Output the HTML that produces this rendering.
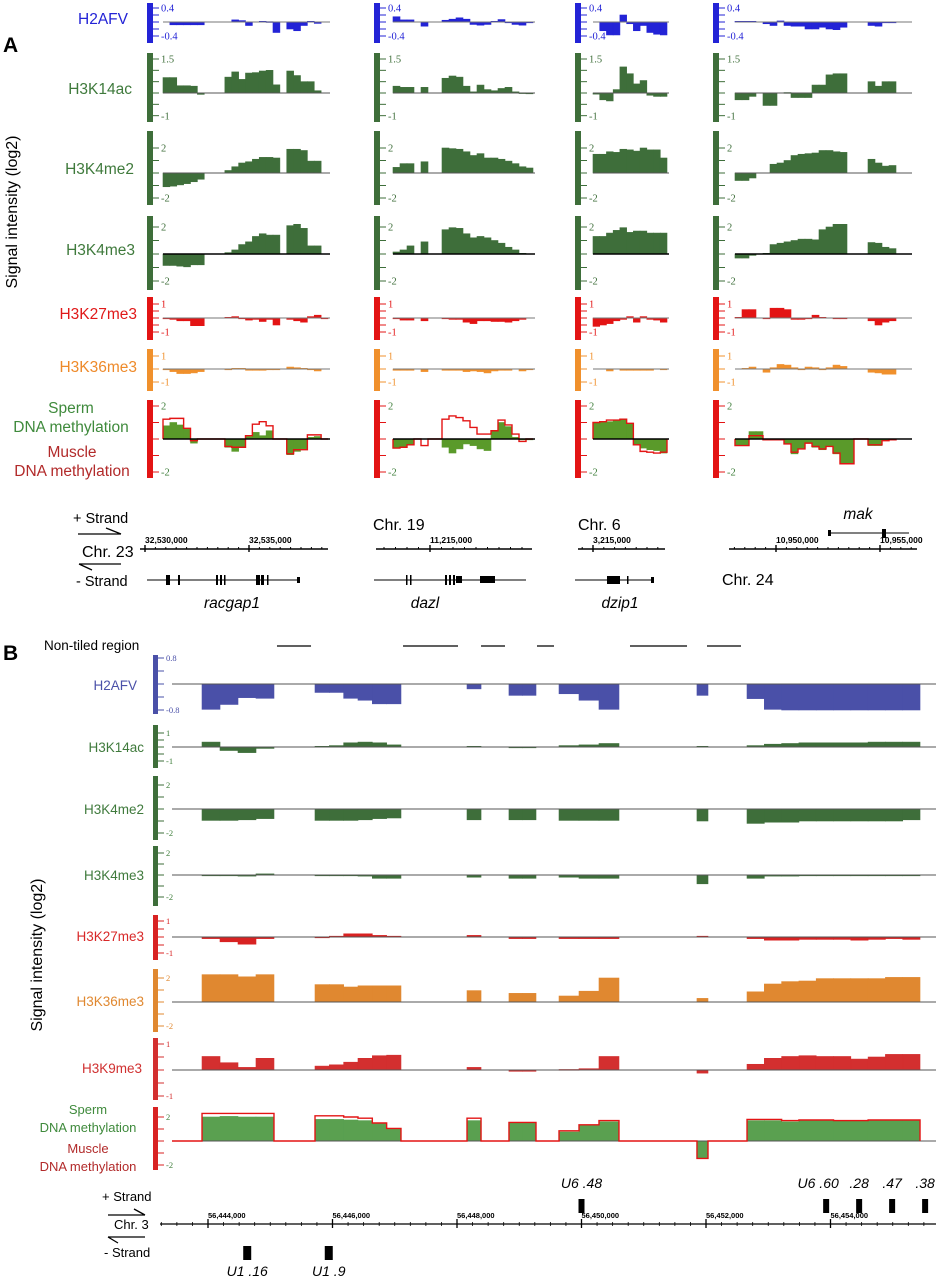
<!DOCTYPE html>
<html><head><meta charset="utf-8">
<style>
html,body{margin:0;padding:0;background:#fff;}
svg{display:block;font-family:"Liberation Sans",sans-serif;}
.tk{font-family:"Liberation Serif",serif;}
</style></head>
<body>
<svg id="fig" width="940" height="1280" viewBox="0 0 940 1280" xmlns="http://www.w3.org/2000/svg">
<text x="3" y="52" font-size="21" font-weight="bold">A</text>
<text x="3" y="660" font-size="21" font-weight="bold">B</text>
<text transform="translate(17,212) rotate(-90)" text-anchor="middle" font-size="16">Signal intensity (log2)</text>
<text transform="translate(42,955) rotate(-90)" text-anchor="middle" font-size="16">Signal intensity (log2)</text>
<text x="44" y="650" font-size="13.5">Non-tiled region</text>

<g font-size="15.5" text-anchor="end">
<text x="128" y="24" fill="#2323d6">H2AFV</text>
<text x="132" y="94" fill="#3f7a3c">H3K14ac</text>
<text x="134" y="174" fill="#3f7a3c">H3K4me2</text>
<text x="135" y="255" fill="#3f7a3c">H3K4me3</text>
<text x="137" y="319" fill="#e01818">H3K27me3</text>
<text x="137" y="372" fill="#ee8a2a">H3K36me3</text>
</g>
<g font-size="15.5" text-anchor="middle">
<text x="71" y="413" fill="#3f8a3c">Sperm</text>
<text x="71" y="432" fill="#3f8a3c">DNA methylation</text>
<text x="72" y="457" fill="#b22a2a">Muscle</text>
<text x="72" y="476" fill="#b22a2a">DNA methylation</text>
</g>

<g font-size="13.5" text-anchor="end">
<text x="137" y="690" fill="#4a50a8">H2AFV</text>
<text x="144" y="752" fill="#3f7a3c">H3K14ac</text>
<text x="144" y="814" fill="#3f7a3c">H3K4me2</text>
<text x="144" y="880" fill="#3f7a3c">H3K4me3</text>
<text x="144" y="941" fill="#d82828">H3K27me3</text>
<text x="144" y="1006" fill="#e08830">H3K36me3</text>
<text x="142" y="1073" fill="#d03030">H3K9me3</text>
</g>
<g font-size="13" text-anchor="middle">
<text x="88" y="1114" fill="#3f8a3c">Sperm</text>
<text x="88" y="1132" fill="#3f8a3c">DNA methylation</text>
<text x="88" y="1153" fill="#b22a2a">Muscle</text>
<text x="88" y="1171" fill="#b22a2a">DNA methylation</text>
</g>

<g>
<text x="73" y="523" font-size="14.5">+ Strand</text>
<path d="M78 534 H121 M106 528 L121 534" stroke="#000" stroke-width="1.3" fill="none"/>
<text x="82" y="557" font-size="16">Chr. 23</text>
<path d="M79 564 H121 M79 564 L92 570" stroke="#000" stroke-width="1.3" fill="none"/>
<text x="76" y="586" font-size="14.5">- Strand</text>
<text x="373" y="530" font-size="16">Chr. 19</text>
<text x="578" y="530" font-size="16">Chr. 6</text>
<text x="722" y="585" font-size="16">Chr. 24</text>
<g font-style="italic" font-size="15.5" text-anchor="middle">
<text x="232" y="608">racgap1</text>
<text x="425" y="608">dazl</text>
<text x="620" y="608">dzip1</text>
<text x="858" y="519">mak</text>
</g>
<g fill="#000" stroke="#000">
<line x1="147" y1="580" x2="300" y2="580" stroke-width="1"/>
<rect x="166" y="575" width="4" height="10" stroke="none"/>
<rect x="178" y="575" width="2" height="10" stroke="none"/>
<rect x="216" y="575" width="2" height="10" stroke="none"/>
<rect x="220" y="575" width="2" height="10" stroke="none"/>
<rect x="224" y="575" width="1.5" height="10" stroke="none"/>
<rect x="256" y="575" width="4" height="10" stroke="none"/>
<rect x="261" y="575" width="3" height="10" stroke="none"/>
<rect x="267" y="575" width="1.5" height="10" stroke="none"/>
<rect x="297" y="577" width="3" height="6" stroke="none"/>
<line x1="374" y1="580" x2="526" y2="580" stroke-width="1"/>
<rect x="406" y="575" width="1.5" height="10" stroke="none"/>
<rect x="410" y="575" width="1.5" height="10" stroke="none"/>
<rect x="445" y="575" width="2" height="10" stroke="none"/>
<rect x="449" y="575" width="2" height="10" stroke="none"/>
<rect x="453" y="575" width="2" height="10" stroke="none"/>
<rect x="456" y="576" width="6" height="7" stroke="none"/>
<rect x="480" y="576" width="15" height="7" stroke="none"/>
<line x1="575" y1="580" x2="654" y2="580" stroke-width="1"/>
<rect x="607" y="576" width="13" height="8" stroke="none"/>
<rect x="627" y="576" width="1.5" height="8" stroke="none"/>
<rect x="651" y="577" width="3" height="6" stroke="none"/>
<line x1="828" y1="533" x2="909" y2="533" stroke-width="1"/>
<rect x="828" y="530" width="3" height="6" stroke="none"/>
<rect x="882" y="529" width="4" height="9" stroke="none"/>
</g>
</g>

<g>
<text x="102" y="1201" font-size="13">+ Strand</text>
<path d="M108 1215 H145 M134 1209 L145 1215" stroke="#000" stroke-width="1.3" fill="none"/>
<text x="114" y="1229" font-size="13">Chr. 3</text>
<path d="M108 1237 H145 M108 1237 L118 1243" stroke="#000" stroke-width="1.3" fill="none"/>
<text x="104" y="1257" font-size="13">- Strand</text>
</g>
<g id="dyn"></g>
</svg>
<script>
// ---------- Panel A data (bin values per column, log2) ----------
const colNames = ["racgap1","dazl","dzip1","mak"];
const c1_h2afv = [0,-0.08,-0.08,-0.08,-0.08,-0.08,null,null,null,0,0.06,0.04,-0.1,0,0.02,0.01,-0.3,null,-0.2,-0.25,-0.1,0.02,-0.04,null];
const c1_h3k14ac = [0.68,0.68,0.32,0.32,0.3,-0.06,null,null,null,0.7,0.93,0.6,0.88,0.9,0.97,1.0,0.36,null,0.97,0.77,0.5,0.5,0.1,null];
const c1_h3k4me2 = [-1.1,-1.05,-0.95,-0.85,-0.7,-0.5,null,null,null,0.2,0.5,0.8,0.9,1.1,1.25,1.25,1.2,null,1.9,1.9,1.8,0.95,0.95,null];
const c1_h3k4me3 = [-0.85,-0.85,-0.9,-0.95,-0.8,-0.8,null,null,null,0.1,0.3,0.7,0.9,1.3,1.5,1.4,1.4,null,2.1,2.2,1.9,0.6,0.6,null];
const c1_h3k27me3 = [-0.05,-0.1,-0.2,-0.2,-0.55,-0.55,null,null,null,0.05,0.1,-0.05,-0.15,-0.1,-0.25,-0.1,-0.5,null,-0.1,-0.2,-0.3,0.1,0.2,-0.05];
const c1_h3k36me3 = [-0.05,-0.2,-0.35,-0.35,-0.3,-0.2,null,null,null,-0.05,0.05,0.05,-0.1,-0.1,-0.1,-0.05,-0.05,null,0.15,0.1,0.05,-0.05,-0.15,null];
const c1_sperm = [0.8,1.0,0.85,0.6,-0.25,0,0,0,0,-0.5,-0.75,-0.5,0.15,0.4,0.2,0.5,0,0,-0.95,-0.75,-0.6,0.1,0.15,0];
const c1_muscle = [1.2,1.25,1.25,0.65,-0.1,0,0,0,0,-0.45,-0.5,-0.5,0.2,0.9,1.05,0.8,0,0,-0.9,-0.65,-0.65,0.25,0.25,0];

const c2_h2afv = [0.15,0.06,0.06,null,-0.12,null,null,0.05,0.08,0.12,0.08,-0.07,-0.09,-0.07,0.02,0.07,-0.02,-0.07,-0.09,-0.02];
const c2_h3k14ac = [0.3,0.25,0.25,null,0.25,null,null,0.65,0.75,0.7,0.3,0.05,0.35,0.15,0.1,0.2,0.25,0.05,0.01,-0.02];
const c2_h3k4me2 = [0.45,0.75,0.75,null,0.9,null,null,2.0,1.95,1.9,1.7,1.4,1.55,1.2,1.2,1.1,0.95,0.75,0.5,0.4];
const c2_h3k4me3 = [0.15,0.3,0.6,null,0.9,null,null,1.8,1.95,1.9,1.5,1.2,1.3,1.2,1.0,0.8,0.5,0.3,0.05,0];
const c2_h3k27me3 = [-0.05,-0.15,-0.15,null,-0.2,null,null,-0.05,-0.1,-0.1,-0.3,-0.4,-0.2,-0.2,-0.25,-0.25,-0.3,-0.2,-0.1,0];
const c2_h3k36me3 = [-0.1,-0.1,-0.1,null,-0.2,null,null,-0.1,-0.1,-0.1,-0.2,-0.15,-0.2,-0.3,-0.15,-0.1,-0.1,0,-0.15,-0.05];
const c2_sperm = [-0.55,-0.5,-0.35,0,0,0,0,-0.5,-0.85,-0.6,-0.3,-0.4,-0.6,-0.7,0.5,1.0,0.75,0.1,-0.05,-0.05];
const c2_muscle = [-0.55,-0.5,-0.35,0,-0.4,0,0,1.2,1.4,1.3,1.1,0.7,0.3,0.3,0.5,1.15,0.85,0.3,-0.15,0];

const c3_h2afv = [0,-0.25,-0.37,-0.37,0.2,-0.05,-0.25,-0.1,-0.3,-0.35,-0.37];
const c3_h3k14ac = [-0.05,-0.3,-0.35,0.15,1.15,0.85,0.4,0.55,-0.1,-0.15,-0.15];
const c3_h3k4me2 = [1.5,1.5,1.7,1.65,1.9,1.85,1.75,2.0,1.85,1.85,1.2];
const c3_h3k4me3 = [1.3,1.3,1.55,1.75,1.95,1.6,1.7,1.7,1.55,1.55,1.55];
const c3_h3k27me3 = [-0.6,-0.5,-0.4,-0.2,-0.1,0.1,-0.3,0.1,-0.1,-0.15,-0.3];
const c3_h3k36me3 = [0,0,-0.15,0,-0.1,-0.1,-0.1,-0.1,-0.1,0,-0.05];
const c3_sperm = [1.0,1.05,1.05,1.15,1.2,0.95,-0.35,-0.55,-0.65,-0.7,-0.85];
const c3_muscle = [1.0,1.05,1.15,1.15,1.2,0.95,-0.35,-0.75,-0.8,-0.85,-0.8];

const c4_h2afv = [0.02,0.02,0.02,0,-0.05,-0.1,0.03,-0.1,-0.12,-0.12,-0.2,-0.2,-0.15,-0.2,-0.22,-0.15,null,null,null,-0.1,-0.12,-0.02,-0.02,null,null];
const c4_h3k14ac = [-0.3,-0.3,-0.15,0,-0.55,-0.55,0,0.02,-0.2,-0.2,-0.2,0.35,0.35,0.8,0.85,0.85,null,null,null,0.5,0.3,0.5,0.5,null,null];
const c4_h3k4me2 = [-0.6,-0.6,-0.4,0,0,0.7,0.8,1.0,1.4,1.5,1.55,1.6,1.8,1.8,1.7,1.65,null,null,null,1.1,0.8,0.55,0.6,null,null];
const c4_h3k4me3 = [-0.3,-0.3,-0.1,0,0.05,0.7,0.8,0.9,1.0,1.1,1.1,1.05,1.8,2.0,2.2,2.2,null,null,null,0.85,0.8,0.5,0.4,null,null];
const c4_h3k27me3 = [0.05,0.6,0.6,null,-0.05,0.7,0.7,0.6,-0.1,-0.1,-0.05,0.2,0.05,0,-0.05,-0.05,null,null,null,-0.2,-0.5,-0.3,-0.2,null,null];
const c4_h3k36me3 = [0,0.05,0.15,null,-0.25,0.1,0.35,0.3,0.1,-0.05,0.15,0.1,-0.05,0.1,0.3,0.2,null,null,null,-0.25,-0.3,-0.4,-0.4,null,null];
const c4_sperm = [-0.35,-0.35,0.45,0.45,-0.05,-0.05,-0.05,-0.3,-0.9,-0.6,-0.25,-0.5,-0.65,-0.45,-0.9,-1.5,-1.5,0,0,-0.4,-0.4,-0.1,-0.05,null,null];
const c4_muscle = [-0.4,-0.4,0.2,0.2,-0.05,-0.05,-0.05,-0.3,-0.8,-0.6,-0.25,-0.45,-0.6,-0.45,-0.85,-1.5,-1.5,0,0,-0.35,-0.35,-0.1,-0.05,null,null];

const axisLabelsA = [["32,530,000","32,535,000"],["11,215,000"],["3,215,000"],["10,950,000","10,955,000"]];

// ---------- Panel B data ----------
const blocksB = [[56443904,56445060,4],[56445719,56447100,6],[56448161,56448386,1],[56448835,56449269,2],[56449639,56450602,3],[56451855,56452032,1],[56452659,56455438,10]];
const nonTiled = [[56445108,56445655],[56447133,56448016],[56448386,56448771],[56449285,56449558],[56450779,56451695],[56452016,56452562]];
const b_h2afv = [-0.78,-0.63,-0.42,-0.44, -0.26,-0.26,-0.44,-0.5,-0.61,-0.61, -0.15, -0.35,-0.35, -0.3,-0.5,-0.78, -0.35, -0.45,-0.78,-0.8,-0.8,-0.8,-0.8,-0.8,-0.8,-0.8,-0.8];
const b_h3k14ac = [0.35,-0.25,-0.4,-0.1, 0.05,0.1,0.3,0.35,0.3,0.15, 0.05, -0.05,-0.05, 0.1,0.15,0.25, 0.05, 0.1,0.2,0.25,0.3,0.3,0.3,0.3,0.35,0.35,0.35];
const b_h3k4me2 = [-0.95,-0.95,-0.9,-0.8, -0.95,-0.95,-0.95,-0.9,-0.8,-0.75, -0.9, -0.9,-0.9, -0.95,-0.95,-0.95, -1.0, -1.2,-1.1,-1.1,-1,-1,-1,-1,-1,-1,-0.9];
const b_h3k4me3 = [-0.05,-0.05,-0.1,0.1, -0.05,-0.05,-0.05,-0.1,-0.3,-0.3, -0.2, -0.3,-0.3, -0.2,-0.3,-0.3, -0.8, -0.3,-0.1,-0.1,-0.05,-0.05,-0.05,-0.05,-0.05,-0.05,-0.05];
const b_h3k27me3 = [-0.1,-0.3,-0.45,-0.1, -0.05,0.05,0.2,0.2,0.1,0.05, 0.1, -0.1,-0.1, -0.1,-0.1,-0.1, 0.05, -0.1,-0.2,-0.2,-0.15,-0.15,-0.15,-0.2,-0.15,-0.1,-0.15];
const b_h3k36me3 = [2.28,2.28,2.1,2.28, 1.45,1.45,1.25,1.35,1.35,1.35, 0.95, 0.72,0.72, 0.5,0.9,2.0, 0.3, 0.85,1.5,1.7,1.75,1.95,1.95,1.95,1.95,2.05,2.05];
const b_h3k9me3 = [0.52,0.28,0.1,0.45, 0.15,0.2,0.3,0.45,0.55,0.57, 0.1, -0.05,-0.05, 0.02,0.05,0.52, -0.12, 0.22,0.45,0.52,0.55,0.52,0.52,0.42,0.5,0.6,0.6];
const b_sperm = [2.0,2.05,2.0,2.0, 1.8,1.8,1.75,1.7,1.45,1.0, 1.7, 1.5,1.5, 0.75,1.3,1.6, -1.4, 1.7,1.7,1.6,1.7,1.7,1.65,1.65,1.7,1.7,1.7];
const b_muscle = [2.3,2.3,2.3,2.3, 2.1,2.1,2.0,1.9,1.5,1.05, 1.9, 1.55,1.55, 0.85,1.35,1.7, -1.45, 1.8,1.8,1.7,1.75,1.75,1.7,1.7,1.75,1.75,1.75];
const bAxisLabels = ["56,444,000","56,446,000","56,448,000","56,450,000","56,452,000","56,454,000"];
const bAxisValues = [56444000,56446000,56448000,56450000,56452000,56454000];
const genesPlus = [["U6 .48",56450000],["U6 .60",56453930],[".28",56454460],[".47",56454990],[".38",56455520]];
const genesMinus = [["U1 .16",56444630],["U1 .9",56445940]];

// ---------- rendering ----------
const NS="http://www.w3.org/2000/svg";
const root=document.getElementById('dyn');
function mk(tag,attrs,parent){const e=document.createElementNS(NS,tag);for(const k in attrs)e.setAttribute(k,attrs[k]);(parent||root).appendChild(e);return e;}

const colsA=[
 {bar:147,x0:163,x1:328,n:24},
 {bar:374,x0:393,x1:533,n:20},
 {bar:575,x0:593,x1:667,n:11},
 {bar:713,x0:735,x1:910,n:25}];
const C={blue:"#2323d6",green:"#3e6e3a",red:"#e31414",orange:"#f0902c",mgreen:"#5a9a2a"};
const rowsA=[
 {key:"h2afv",base:22,top:3,bot:43,T:0.4,yT:8,ticks:[0.4,0.2,0,-0.2,-0.4],labs:[0.4,-0.4],color:C.blue,lc:"#2323d6",bl:"#777"},
 {key:"h3k14ac",base:93,top:53,bot:122,T:1.5,yT:59,ticks:[1.5,1,0.5,0,-0.5,-1],labs:[1.5,-1],color:C.green,lc:"#3e6e3a",bl:"#555"},
 {key:"h3k4me2",base:173,top:131,bot:205,T:2,yT:148,ticks:[2,1,0,-1,-2],labs:[2,-2],color:C.green,lc:"#3e6e3a",bl:"#555"},
 {key:"h3k4me3",base:254,top:216,bot:290,T:2,yT:227,ticks:[2,1,0,-1,-2],labs:[2,-2],color:C.green,lc:"#3e6e3a",bl:"#000"},
 {key:"h3k27me3",base:318,top:297,bot:340,T:1,yT:304,ticks:[1,0.5,0,-0.5,-1],labs:[1,-1],color:C.red,lc:"#e31414",bl:"#777"},
 {key:"h3k36me3",base:369,top:349,bot:391,T:1,yT:356,ticks:[1,0,-1],labs:[1,-1],color:C.orange,lc:"#f0902c",bl:"#777"},
 {key:"meth",base:439,top:400,bot:478,T:2,yT:406,ticks:[2,1,0,-1,-2],labs:[2,-2],color:C.red,lc:"#3e7e3a",bl:"#000"}];
const dataA={
 h2afv:[c1_h2afv,c2_h2afv,c3_h2afv,c4_h2afv],
 h3k14ac:[c1_h3k14ac,c2_h3k14ac,c3_h3k14ac,c4_h3k14ac],
 h3k4me2:[c1_h3k4me2,c2_h3k4me2,c3_h3k4me2,c4_h3k4me2],
 h3k4me3:[c1_h3k4me3,c2_h3k4me3,c3_h3k4me3,c4_h3k4me3],
 h3k27me3:[c1_h3k27me3,c2_h3k27me3,c3_h3k27me3,c4_h3k27me3],
 h3k36me3:[c1_h3k36me3,c2_h3k36me3,c3_h3k36me3,c4_h3k36me3],
 sperm:[c1_sperm,c2_sperm,c3_sperm,c4_sperm],
 muscle:[c1_muscle,c2_muscle,c3_muscle,c4_muscle]};

function yScale(r){const s=(r.base-r.yT)/r.T;return v=>r.base-v*s;}
function fmt(v){return (v<0?"-":"")+String(Math.abs(v));}

function axisBar(r,bx,barW,tickLen,fs,labX,y){
 const b=mk('rect',{x:bx,y:r.top,width:barW,height:r.bot-r.top,fill:r.color});
 
 
 r.ticks.forEach(t=>{
  const l=mk('line',{x1:bx+barW,x2:bx+barW+tickLen,y1:y(t),y2:y(t),stroke:r.color,'stroke-width':1});
  
  
 });
 r.labs.forEach(t=>{
  const tx=mk('text',{x:labX,y:y(t)+fs*0.35,'font-size':fs,fill:r.lc,class:'tk'});
  tx.textContent=fmt(t);
  
  
 });
}
function bars(vals,xOf,y,base,color,name){
 vals.forEach((v,i)=>{
  if(v===null||v===0)return;
  const [a,b]=xOf(i);const yv=y(v);
  const r=mk('rect',{x:a,y:Math.min(yv,base),width:b-a,height:Math.max(0.8,Math.abs(yv-base)),fill:color,stroke:color,'stroke-width':0.6});
  
  
 });
}
function stepPath(vals,xOf,y,base){
 let d="";let prevEnd=null;
 vals.forEach((v,i)=>{
  if(v===null)return;
  const [a,b]=xOf(i);
  if(prevEnd===null)d+="M"+a+" "+base;
  else if(Math.abs(prevEnd-a)>0.5)d+=" L"+prevEnd+" "+base+" L"+a+" "+base;
  d+=" L"+a+" "+y(v)+" L"+b+" "+y(v);prevEnd=b;
 });
 if(prevEnd!==null)d+=" L"+prevEnd+" "+base;
 return d;
}

colsA.forEach((c,ci)=>{
 const bw=(c.x1-c.x0)/c.n;
 const xOf=i=>[c.x0+i*bw,c.x0+(i+1)*bw];
 rowsA.forEach(r=>{
  const y=yScale(r);
  axisBar(r,c.bar,6,6,10.5,c.bar+14,y);
  if(r.key==="meth"){
   bars(dataA.sperm[ci],xOf,y,r.base,C.mgreen,'sperm-methylation-bar-'+colNames[ci]);
   const p=mk('path',{d:stepPath(dataA.muscle[ci],xOf,y,r.base),fill:"none",stroke:"#e31414",'stroke-width':1.4});
   
   
  } else {
   bars(dataA[r.key][ci],xOf,y,r.base,r.color,r.key+'-bar-'+colNames[ci]);
  }
  const bl=mk('line',{x1:c.x0,x2:c.x1+2,y1:r.base,y2:r.base,stroke:r.bl,'stroke-width':r.bl==="#000"?1.5:1});
  
  
 });
});

const axesA=[
 {x1:140,x2:328,majors:[145,249],step:10.4},
 {x1:376,x2:532,majors:[430],step:11.5},
 {x1:578,x2:665,majors:[593],step:10.8},
 {x1:729,x2:917,majors:[776,880],step:10.4}];
axesA.forEach((a,ai)=>{
 const l=mk('line',{x1:a.x1,x2:a.x2,y1:549,y2:549,stroke:"#000",'stroke-width':1.6});
 
 
 const m0=a.majors[0];
 for(let x=m0;x<=a.x2;x+=a.step){mk('line',{x1:x,x2:x,y1:547,y2:549,stroke:"#000"});}
 for(let x=m0-a.step;x>=a.x1;x-=a.step){mk('line',{x1:x,x2:x,y1:547,y2:549,stroke:"#000"});}
 a.majors.forEach((mx,mi)=>{
  mk('line',{x1:mx,x2:mx,y1:545,y2:552,stroke:"#000",'stroke-width':1.4});
  const t=mk('text',{x:mx,y:543,'font-size':8.5,'font-weight':'bold'});
  t.textContent=axisLabelsA[ai][mi];
  
  
 });
});

const xB=bp=>208+(bp-56444000)*124.5/2000;
const binsB=[];
blocksB.forEach(([s,e,n])=>{for(let k=0;k<n;k++)binsB.push([s+(e-s)*k/n,s+(e-s)*(k+1)/n]);});
const xOfB=i=>[xB(binsB[i][0]),xB(binsB[i][1])];
nonTiled.forEach(([s,e])=>{
 const l=mk('line',{x1:xB(s),x2:xB(e),y1:646,y2:646,stroke:"#000",'stroke-width':1.3});
 
 
});
const rowsB=[
 {key:"h2afv",vals:b_h2afv,base:684,top:655,bot:714,T:0.8,yT:658,ticks:[0.8,0.4,0,-0.4,-0.8],labs:[0.8,-0.8],color:"#4a50a8",lc:"#4a50a8"},
 {key:"h3k14ac",vals:b_h3k14ac,base:747,top:725,bot:768,T:1,yT:733,ticks:[1,0.5,0,-0.5,-1],labs:[1,-1],color:"#3e6e3a",lc:"#3e7e3a"},
 {key:"h3k4me2",vals:b_h3k4me2,base:809,top:776,bot:840,T:2,yT:785,ticks:[2,1,0,-1,-2],labs:[2,-2],color:"#3e6e3a",lc:"#3e7e3a"},
 {key:"h3k4me3",vals:b_h3k4me3,base:875,top:846,bot:906,T:2,yT:853,ticks:[2,1,0,-1,-2],labs:[2,-2],color:"#3e6e3a",lc:"#3e7e3a"},
 {key:"h3k27me3",vals:b_h3k27me3,base:937,top:915,bot:960,T:1,yT:921,ticks:[1,0.5,0,-0.5,-1],labs:[1,-1],color:"#d82222",lc:"#d82222"},
 {key:"h3k36me3",vals:b_h3k36me3,base:1002,top:969,bot:1032,T:2,yT:978,ticks:[2,1,0,-1,-2],labs:[2,-2],color:"#e08830",lc:"#e08830"},
 {key:"h3k9me3",vals:b_h3k9me3,base:1070,top:1038,bot:1100,T:1,yT:1044,ticks:[1,0.5,0,-0.5,-1],labs:[1,-1],color:"#d32f2f",lc:"#d32f2f"},
 {key:"meth",vals:null,base:1141,top:1107,bot:1170,T:2,yT:1117,ticks:[2,1,0,-1,-2],labs:[2,-2],color:"#d82222",lc:"#3e7e3a"}];
rowsB.forEach(r=>{
 const y=yScale(r);
 axisBar(r,153,5,6,8.5,166,y);
 if(r.key==="meth"){
  bars(b_sperm,xOfB,y,r.base,"#5aa050",'sperm-methylation-bar-b');
  const line0=mk('line',{x1:172,x2:936,y1:r.base,y2:r.base,stroke:"#555",'stroke-width':1});
  
  
  const d="M172 "+r.base+" "+stepPath(b_muscle,xOfB,y,r.base).replace(/^M/," L");
  const p=mk('path',{d:d,fill:"none",stroke:"#e31414",'stroke-width':1.4});
  
  
 } else {
  bars(r.vals,xOfB,y,r.base,r.color,r.key+'-bar-b');
  const bl=mk('line',{x1:172,x2:936,y1:r.base,y2:r.base,stroke:"#555",'stroke-width':1});
  
  
 }
});

const ax=mk('line',{x1:160,x2:936,y1:1224,y2:1224,stroke:"#000",'stroke-width':1.2});


for(let bp=56443250;xB(bp)<=936;bp+=250){mk('line',{x1:xB(bp),x2:xB(bp),y1:1222,y2:1226,stroke:"#000",'stroke-width':0.8});}
bAxisValues.forEach((v,i)=>{
 mk('line',{x1:xB(v),x2:xB(v),y1:1219,y2:1228,stroke:"#000",'stroke-width':1.3});
 const t=mk('text',{x:xB(v),y:1218,'font-size':7.5,'font-weight':'bold'});
 t.textContent=bAxisLabels[i];
 
 
});
genesPlus.forEach(([n,bp],i)=>{
 const r=mk('rect',{x:xB(bp)-3,y:1199,width:6,height:14,fill:"#000"});
 
 
 const t=mk('text',{x:xB(bp)+(i===1?-8:0),y:1188,'font-size':14,'font-style':'italic','text-anchor':'middle'});
 t.textContent=n;
 
 
});
genesMinus.forEach(([n,bp])=>{
 const r=mk('rect',{x:xB(bp)-4,y:1246,width:8,height:14,fill:"#000"});
 
 
 const t=mk('text',{x:xB(bp),y:1276,'font-size':14,'font-style':'italic','text-anchor':'middle'});
 t.textContent=n;
 
 
});
</script>
</body></html>
